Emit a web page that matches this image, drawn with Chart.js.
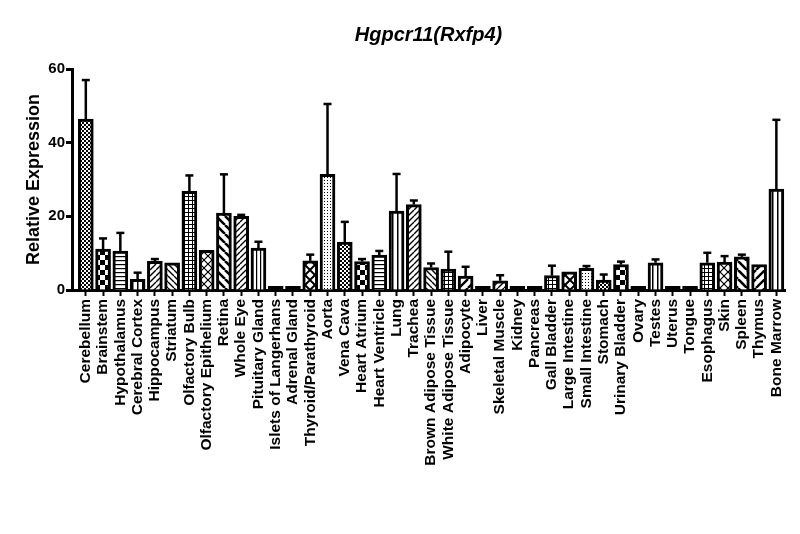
<!DOCTYPE html>
<html>
<head>
<meta charset="utf-8">
<script src="https://cdn.jsdelivr.net/npm/chart.js@4.4.1/dist/chart.umd.min.js"></script>
<style>
html,body{margin:0;padding:0;background:#fff;}
#wrap{width:800px;height:534px;}
</style>
</head>
<body>
<div id="wrap"><canvas id="c" width="800" height="534"></canvas></div>
<script>
const categories = ["Cerebellum","Brainstem","Hypothalamus","Cerebral Cortex","Hippocampus","Striatum","Olfactory Bulb","Olfactory Epithelium","Retina","Whole Eye","Pituitary Gland","Islets of Langerhans","Adrenal Gland","Thyroid/Parathyroid","Aorta","Vena Cava","Heart Atrium","Heart Ventricle","Lung","Trachea","Brown Adipose Tissue","White Adipose Tissue","Adipocyte","Liver","Skeletal Muscle","Kidney","Pancreas","Gall Bladder","Large Intestine","Small Intestine","Stomach","Urinary Bladder","Ovary","Testes","Uterus","Tongue","Esophagus","Skin","Spleen","Thymus","Bone Marrow"];
const values = [46.4,11.1,10.6,2.9,7.8,7.4,26.8,10.8,20.9,20.0,11.4,1.0,1.0,7.9,31.4,13.0,7.7,9.5,21.4,23.2,6.1,5.7,3.8,1.0,2.5,1.0,1.0,3.9,4.9,5.9,2.7,6.9,1.0,7.4,1.0,1.0,7.4,7.6,9.0,6.9,27.4];
const sem = [10.6,2.9,4.9,1.8,0.6,0,4.3,0,10.5,0.4,1.7,0,0,1.7,19.1,5.5,0.7,1.1,10.1,1.1,1.1,4.7,2.5,0,1.5,0,0,2.7,0,0.6,1.5,0.8,0,0.9,0,0,2.7,1.6,0.6,0,18.8];
const patternTypes = ["checkFine","checkLarge","hlines","vwide","diagR","diagL","grid","cross","diagLwide","diagR","vlines","solid","solid","diamond","dots","checkFine","checkLarge","hlines","vwide","diagR","diagL","grid","diagRwide","solid","diagR","solid","solid","grid","diamond","dots","checkFine","checkLarge","solid","vwide","solid","solid","grid","cross","diagLwide","diagRwide","vwide"];
const yTicks = [0,20,40,60];

function makePattern(type){
  const sizes = {checkFine:4,checkLarge:10,hlines:4,vlines:4,vwide:5,grid:4,diagR:6,diagL:6,diagRwide:9,diagLwide:9,cross:8,diamond:10,dots:3,solid:2};
  const s = sizes[type];
  const c = document.createElement('canvas');
  c.width = s; c.height = s;
  const g = c.getContext('2d');
  g.fillStyle = '#fff'; g.fillRect(0,0,s,s);
  g.fillStyle = '#000'; g.strokeStyle = '#000';
  const diag = (dir, w) => {
    g.lineWidth = w; g.beginPath();
    for (let k=-1;k<=1;k++){
      if (dir>0){ g.moveTo(k*s, s); g.lineTo(k*s+s, 0); }
      else { g.moveTo(k*s, 0); g.lineTo(k*s+s, s); }
    }
    g.stroke();
  };
  switch(type){
    case 'checkFine': g.fillRect(0,0,2,2); g.fillRect(2,2,2,2); break;
    case 'checkLarge': g.fillRect(0,0,5,5); g.fillRect(5,5,5,5); break;
    case 'hlines': g.fillRect(0,0,s,1.2); break;
    case 'vlines': g.fillRect(0,0,1.2,s); break;
    case 'vwide': g.fillRect(2,0,1.5,s); break;
    case 'grid': g.fillRect(0,0,s,1); g.fillRect(0,0,1,s); break;
    case 'diagR': diag(1,1.4); break;
    case 'diagL': diag(-1,1.4); break;
    case 'diagRwide': diag(1,2.4); break;
    case 'diagLwide': diag(-1,2.6); break;
    case 'cross': diag(1,1.2); diag(-1,1.2); break;
    case 'diamond': diag(1,2); diag(-1,2); break;
    case 'dots': g.fillRect(0,0,1,1); break;
    case 'solid': g.fillStyle='#000'; g.fillRect(0,0,s,s); break;
  }
  return g.createPattern(c,'repeat');
}
const patterns = patternTypes.map(makePattern);

const errorBars = {
  id:'errorBars',
  afterDatasetsDraw(chart){
    const ctx = chart.ctx, xs = chart.scales.x, ys = chart.scales.y;
    ctx.save();
    ctx.strokeStyle = '#000';
    values.forEach((v,i)=>{
      if (!sem[i]) return;
      const x = xs.getPixelForValue(i);
      const y0 = ys.getPixelForValue(v);
      const y1 = ys.getPixelForValue(v+sem[i]);
      ctx.lineWidth = 2.5;
      ctx.beginPath(); ctx.moveTo(x,y0); ctx.lineTo(x,y1); ctx.stroke();
      ctx.beginPath(); ctx.moveTo(x-4,y1); ctx.lineTo(x+4,y1); ctx.stroke();
    });
    ctx.restore();
  }
};

Chart.defaults.font.family = "'Liberation Sans', Arial, sans-serif";
Chart.defaults.color = '#000';

new Chart(document.getElementById('c'), {
  type:'bar',
  data:{
    datasets:[{
      data: values.map((v,i)=>({x:i,y:v})),
      backgroundColor: patterns,
      borderColor:'#000',
      borderWidth:3,
      barThickness:15,
      borderSkipped:'bottom'
    }]
  },
  options:{
    responsive:false,
    animation:false,
    devicePixelRatio:1,
    layout:{padding:{left:0,right:15,top:0,bottom:0}},
    plugins:{
      legend:{display:false},
      tooltip:{enabled:false},
      title:{display:true,text:'Hgpcr11(Rxfp4)',fullSize:false,
        font:{size:20,weight:'bold',style:'italic'},color:'#000',
        padding:{top:23,bottom:22}}
    },
    scales:{
      x:{
        type:'linear', min:-0.8, max:40.5, offset:false,
        afterBuildTicks(scale){ scale.ticks = categories.map((c,i)=>({value:i})); },
        afterFit(scale){ scale.height = 244; },
        ticks:{autoSkip:false,minRotation:90,maxRotation:90,padding:3,
          font:{size:15.5,weight:'bold'},color:'#000',
          callback:(v)=>categories[v]},
        grid:{offset:false,drawOnChartArea:false,drawTicks:true,tickLength:6,tickWidth:2,tickColor:'#000',color:'#000'},
        border:{display:true,width:3,color:'#000'}
      },
      y:{
        min:0,max:60,
        afterBuildTicks(scale){ scale.ticks = yTicks.map(v=>({value:v})); },
        afterFit(scale){ scale.width = 72; },
        ticks:{padding:1,font:{size:15,weight:'bold'},color:'#000'},
        grid:{drawOnChartArea:false,drawTicks:true,tickLength:6,tickWidth:3,tickColor:'#000',color:'#000'},
        border:{display:true,width:3,color:'#000'},
        title:{display:true,text:'Relative Expression',font:{size:18,weight:'bold'},color:'#000',padding:{top:23,bottom:0}}
      }
    }
  },
  plugins:[errorBars]
});
</script>
</body>
</html>
